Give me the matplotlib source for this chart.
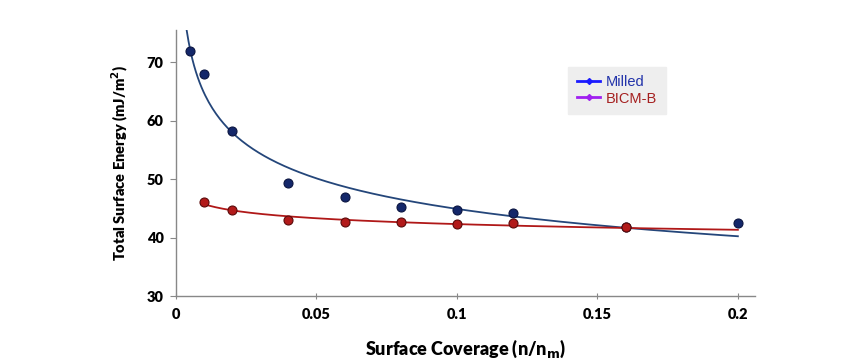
import numpy as np
import matplotlib
matplotlib.use("Agg")
import matplotlib.pyplot as plt
from matplotlib.lines import Line2D

plt.rcParams['font.family'] = ['Lato', 'DejaVu Sans']

# data
milled_x = [0.005, 0.01, 0.02, 0.04, 0.06, 0.08, 0.1, 0.12, 0.16, 0.2]
milled_y = [72.0, 68.0, 58.3, 49.4, 47.0, 45.2, 44.8, 44.3, 41.8, 42.5]
bicm_x = [0.01, 0.02, 0.04, 0.06, 0.08, 0.1, 0.12, 0.16]
bicm_y = [46.2, 44.7, 43.0, 42.7, 42.8, 42.4, 42.5, 41.8]

x_ticks = [0, 0.05, 0.1, 0.15, 0.2]
x_tick_labels = ["0", "0.05", "0.1", "0.15", "0.2"]
y_ticks = [30, 40, 50, 60, 70]


def power_fit(x, y, x0, x1):
    # power law trendline, fitted in log space
    b, ln_a = np.polyfit(np.log(x), np.log(y), 1)
    xs = np.linspace(x0, x1, 300)
    return xs, np.exp(ln_a) * xs ** b


fig = plt.figure(figsize=(8.43, 3.62), dpi=100)
ax = fig.add_axes([0.2088, 0.181, 0.6865, 0.736])

fx, fy = power_fit(milled_x, milled_y, 0.0038, 0.2)
ax.plot(fx, fy, color="#24467a", lw=1.3, zorder=2)
fx, fy = power_fit(bicm_x, bicm_y, 0.009, 0.2)
ax.plot(fx, fy, color="#b01818", lw=1.3, zorder=2)

ax.scatter(milled_x, milled_y, s=42, color="#14276a", edgecolors="#0a1440",
           linewidths=0.8, zorder=3)
ax.scatter(bicm_x, bicm_y, s=42, color="#b21a1a", edgecolors="#5a0a0a",
           linewidths=0.8, zorder=3)

ax.set_xlim(0, 0.206)
ax.set_ylim(30, 75.5)
ax.set_xticks(x_ticks)
ax.set_xticklabels(x_tick_labels)
ax.set_yticks(y_ticks)

for s in ["top", "right"]:
    ax.spines[s].set_visible(False)
for s in ["left", "bottom"]:
    ax.spines[s].set_color("#888888")
    ax.spines[s].set_linewidth(1.0)
ax.tick_params(axis="y", direction="out", length=4, color="#888888",
               labelsize=10.5, pad=5)
ax.tick_params(axis="x", direction="inout", length=5, color="#888888",
               labelsize=10.5, pad=6)
for lab in ax.get_xticklabels() + ax.get_yticklabels():
    lab.set_fontweight("heavy")

ax.set_ylabel("Total Surface Energy (mJ/m$^\\mathbf{2}$)", fontsize=10.5,
              fontweight="heavy", labelpad=12)
ax.set_xlabel("Surface Coverage (n/n$_\\mathbf{m}$)", fontsize=13,
              fontweight="heavy", labelpad=12)

handles = [
    Line2D([0], [0], color="#1a1aff", lw=2, marker="D", markersize=3),
    Line2D([0], [0], color="#a020f0", lw=2, marker="D", markersize=3),
]
leg = ax.legend(handles, ["Milled", "BICM-B"], loc="upper left",
                bbox_to_anchor=(0.665, 0.89), frameon=True, fancybox=False,
                facecolor="#eeeeee", edgecolor="#eeeeee", framealpha=1,
                prop={"family": "Liberation Sans", "size": 10.5},
                handlelength=1.6, handletextpad=0.4,
                labelspacing=0.15, borderpad=0.6)
leg.get_texts()[0].set_color("#2233aa")
leg.get_texts()[1].set_color("#a52020")

fig.savefig("out.png", dpi=100)
